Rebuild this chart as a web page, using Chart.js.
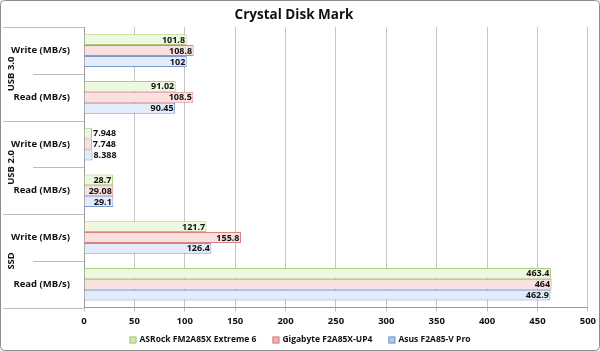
<!DOCTYPE html>
<html>
<head>
<meta charset="utf-8">
<script src="https://cdn.jsdelivr.net/npm/chart.js@4"></script>
<style>
  html, body { margin: 0; padding: 0; background: #fff; }
  #wrap { width: 600px; height: 351px; }
</style>
</head>
<body>
<div id="wrap"><canvas id="diskChart" width="600" height="351"></canvas></div>
<script>
const kategorien = ['Write (MB/s)', 'Read (MB/s)', 'Write (MB/s)', 'Read (MB/s)', 'Write (MB/s)', 'Read (MB/s)'];
const gruppen = ['USB 3.0', 'USB 2.0', 'SSD'];
const asrock = [101.8, 91.02, 7.948, 28.7, 121.7, 463.4];
const gigabyte = [108.8, 108.5, 7.748, 29.08, 155.8, 464];
const asus = [102, 90.45, 8.388, 29.1, 126.4, 462.9];
const xTicks = [0, 50, 100, 150, 200, 250, 300, 350, 400, 450, 500];

const fontName = '"Open Sans", sans-serif';
const farbenOben = ['#eef8e0', '#fbe0e0', '#e2ecfa'];
const farbenUnten = ['#cfe9ac', '#f1adad', '#aec6ec'];
const rahmen = ['#a9cd7a', '#d98383', '#7b9bd2'];

function verlauf(oben, unten) {
  return ctx => {
    const bar = ctx.element;
    if (!bar || bar.y === undefined) return oben;
    const h = bar.height || 10;
    const g = ctx.chart.ctx.createLinearGradient(0, bar.y - h / 2, 0, bar.y + h / 2);
    g.addColorStop(0, oben);
    g.addColorStop(1, unten);
    return g;
  };
}

const werteLabels = {
  id: 'werteLabels',
  afterDatasetsDraw(chart) {
    const c = chart.ctx;
    c.save();
    c.font = 'bold 9px ' + fontName;
    c.fillStyle = '#111';
    c.textBaseline = 'middle';
    chart.data.datasets.forEach((ds, i) => {
      chart.getDatasetMeta(i).data.forEach((bar, j) => {
        const txt = String(ds.data[j]);
        const w = c.measureText(txt).width;
        const breite = bar.x - bar.base;
        if (breite > w + 2) {
          c.textAlign = 'right';
          c.fillText(txt, bar.x - 1.5, bar.y + 0.5);
        } else {
          c.textAlign = 'left';
          c.fillText(txt, bar.x + 1, bar.y + 0.5);
        }
      });
    });
    c.restore();
  }
};

const gruppenAchse = {
  id: 'gruppenAchse',
  afterDraw(chart) {
    const c = chart.ctx;
    const y = chart.scales.y;
    const area = chart.chartArea;
    c.save();
    c.strokeStyle = '#bdbdbd';
    c.lineWidth = 1;
    for (let i = 0; i <= kategorien.length; i++) {
      const py = Math.round(y.getPixelForValue(i - 0.5)) + 0.5;
      const start = (i % 2 === 0) ? 3 : 33;
      c.beginPath();
      c.moveTo(start, py);
      c.lineTo(area.left, py);
      c.stroke();
    }
    c.font = 'bold 9.5px ' + fontName;
    c.fillStyle = '#111';
    c.textAlign = 'center';
    c.textBaseline = 'middle';
    gruppen.forEach((g, k) => {
      const mid = (y.getPixelForValue(2 * k) + y.getPixelForValue(2 * k + 1)) / 2;
      c.save();
      c.translate(11, mid);
      c.rotate(-Math.PI / 2);
      c.fillText(g, 0, 0);
      c.restore();
    });

    // Legende unten
    c.font = 'bold 8.5px ' + fontName;
    c.textAlign = 'left';
    const namen = chart.data.datasets.map(d => d.label);
    const breiten = namen.map(n => 10 + c.measureText(n).width);
    const abstand = 16;
    const gesamt = breiten.reduce((a, b) => a + b, 0) + abstand * (namen.length - 1);
    let lx = chart.width / 2 - gesamt / 2;
    const ly = 340;
    namen.forEach((n, i) => {
      c.fillStyle = farbenUnten[i];
      c.fillRect(lx, ly - 3.5, 7, 7);
      c.strokeStyle = rahmen[i];
      c.strokeRect(lx + 0.5, ly - 3, 6, 6);
      c.fillStyle = '#111';
      c.fillText(n, lx + 10, ly);
      lx += breiten[i] + abstand;
    });

    // Rahmen
    c.strokeStyle = '#8c8c8c';
    c.lineWidth = 1;
    c.beginPath();
    c.roundRect(0.5, 0.5, chart.width - 1, chart.height - 1, 4);
    c.stroke();
    c.restore();
  }
};

new Chart(document.getElementById('diskChart'), {
  type: 'bar',
  data: {
    labels: kategorien,
    datasets: [{
      label: 'ASRock FM2A85X Extreme 6',
      data: asrock,
      backgroundColor: verlauf(farbenOben[0], farbenUnten[0]),
      borderColor: rahmen[0],
      borderWidth: 1
    }, {
      label: 'Gigabyte F2A85X-UP4',
      data: gigabyte,
      backgroundColor: verlauf(farbenOben[1], farbenUnten[1]),
      borderColor: rahmen[1],
      borderWidth: 1
    }, {
      label: 'Asus F2A85-V Pro',
      data: asus,
      backgroundColor: verlauf(farbenOben[2], farbenUnten[2]),
      borderColor: rahmen[2],
      borderWidth: 1
    }]
  },
  options: {
    indexAxis: 'y',
    responsive: false,
    animation: false,
    layout: { padding: { left: 0, right: 12, top: 2, bottom: 20 } },
    categoryPercentage: 0.7,
    barPercentage: 1,
    scales: {
      x: {
        min: 0,
        max: 500,
        afterBuildTicks: s => { s.ticks = xTicks.map(v => ({ value: v })); },
        grid: { color: '#c4c4c4', tickLength: 4, drawTicks: true },
        border: { color: '#9a9a9a' },
        ticks: { color: '#111', font: { family: fontName, size: 9.5, weight: 'bold' }, padding: 4 }
      },
      y: {
        grid: { display: false },
        border: { color: '#9a9a9a' },
        afterFit: s => { s.width = 84; },
        ticks: { color: '#111', font: { family: fontName, size: 9.5, weight: 'bold' }, padding: 6 }
      }
    },
    plugins: {
      title: {
        display: true,
        text: 'Crystal Disk Mark',
        color: '#111',
        font: { family: fontName, size: 13.5, weight: 'bold' },
        padding: { top: 5, bottom: 4 }
      },
      legend: { display: false },
      tooltip: { enabled: false }
    }
  },
  plugins: [werteLabels, gruppenAchse]
});
</script>
</body>
</html>
